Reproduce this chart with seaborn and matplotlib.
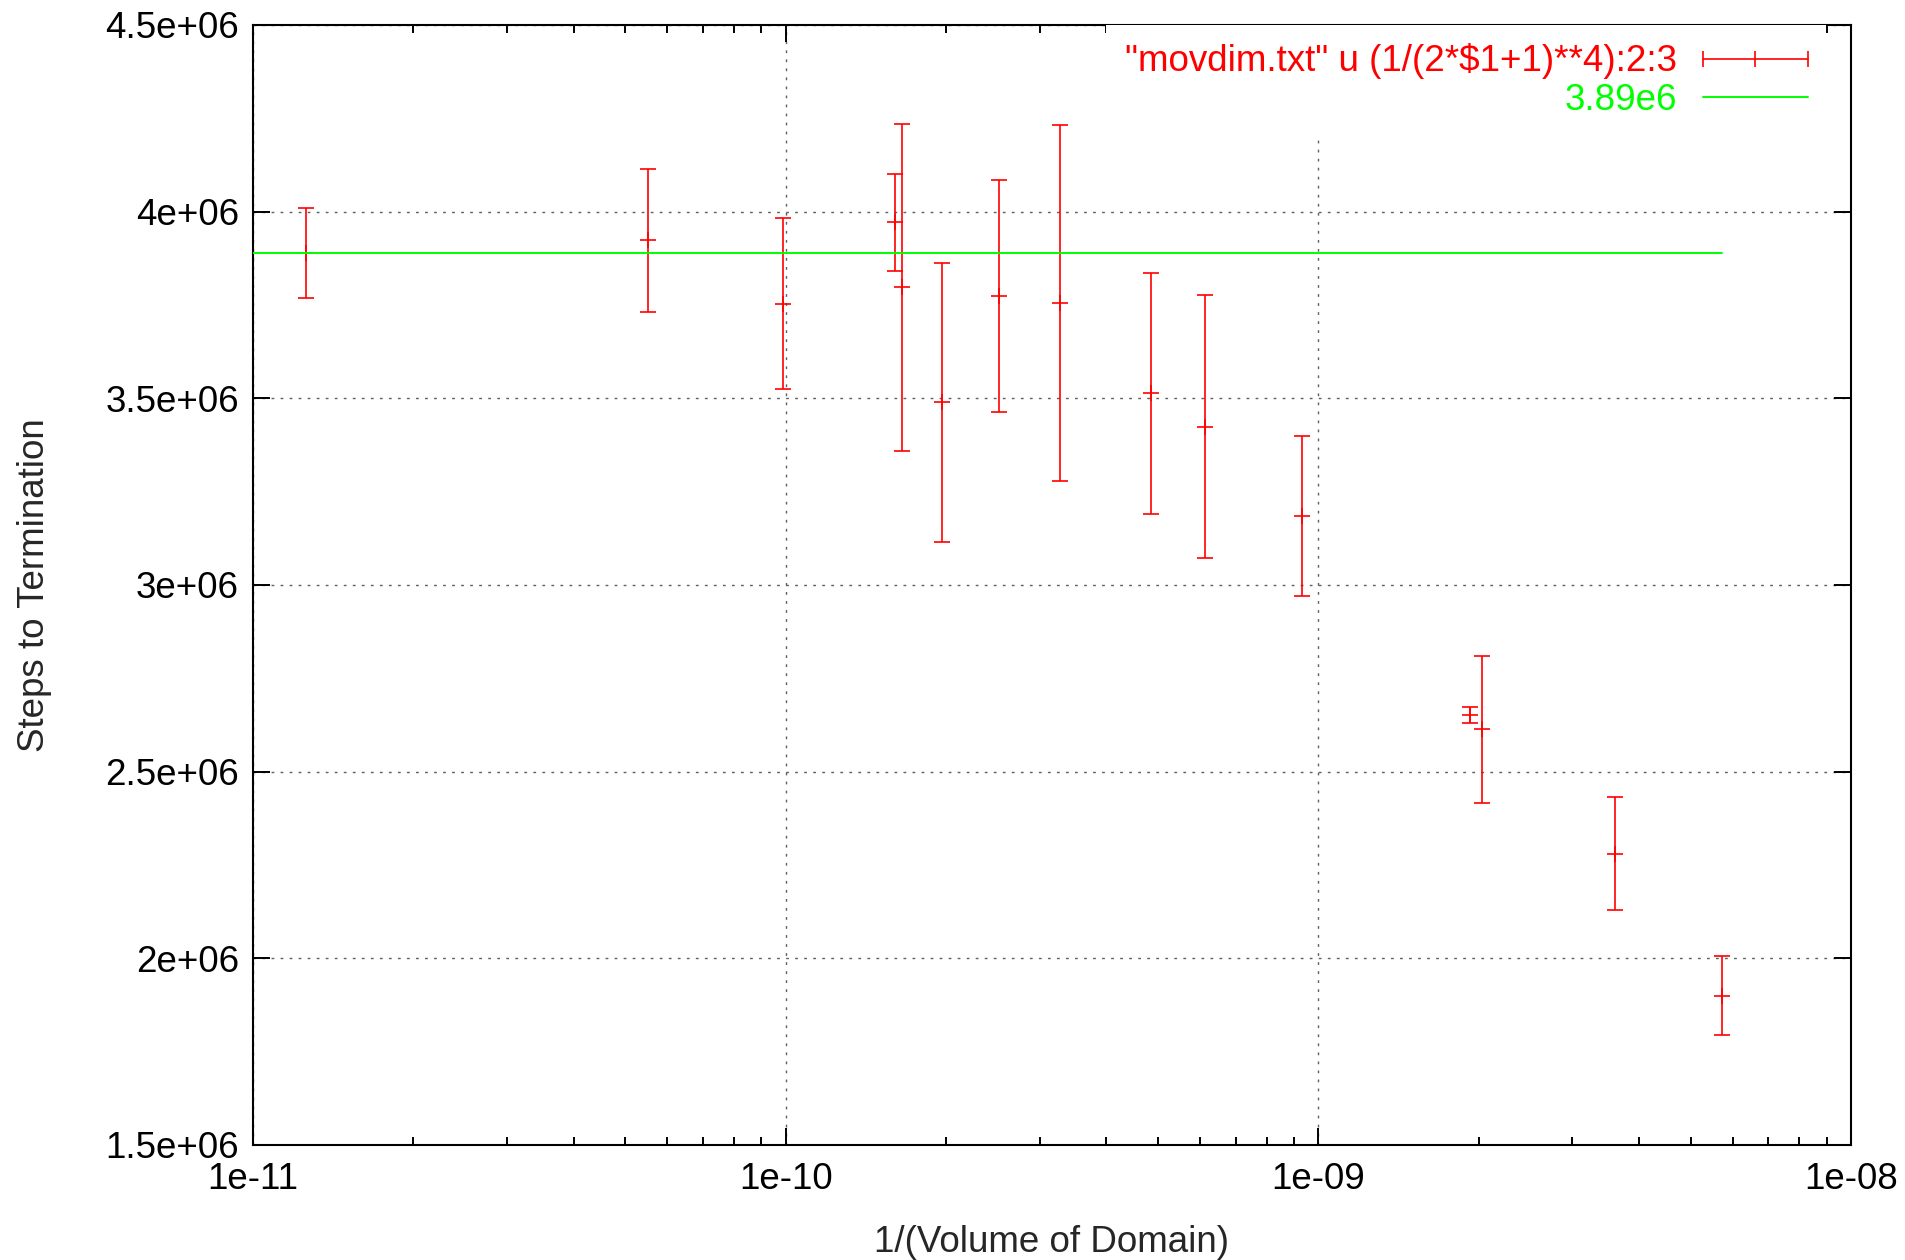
import numpy as np
import matplotlib
matplotlib.use('Agg')
import matplotlib.pyplot as plt
import seaborn as sns
from matplotlib.lines import Line2D
from matplotlib.legend_handler import HandlerBase
from matplotlib.ticker import LogLocator, NullLocator, NullFormatter, FuncFormatter

# ---------------------------------------------------------------------------
# data: domain side length (x = 1/side**4), mean, error
# ---------------------------------------------------------------------------
side = [531, 367, 317, 281, 279, 267, 251, 235, 213, 201, 181, 151, 149, 129, 115]
steps = [3.890e6, 3.923e6, 3.753e6, 3.972e6, 3.797e6, 3.489e6, 3.774e6, 3.756e6,
         3.514e6, 3.424e6, 3.185e6, 2.651e6, 2.613e6, 2.280e6, 1.900e6]
step_err = [0.120e6, 0.192e6, 0.229e6, 0.130e6, 0.437e6, 0.373e6, 0.311e6, 0.477e6,
            0.323e6, 0.353e6, 0.215e6, 0.021e6, 0.197e6, 0.151e6, 0.105e6]

fit_value = 3.89e6
data_label = '"movdim.txt" u (1/(2*$1+1)**4):2:3'
fit_label = '3.89e6'

inv_volume = 1.0 / np.array(side, dtype=float) ** 4

RED = '#ff0000'
GREEN = '#00ff00'
FS = 26.5


class ErrorbarKey(HandlerBase):
    """gnuplot style key sample: |--+--|"""
    def create_artists(self, legend, orig_handle, xdescent, ydescent,
                       width, height, fontsize, trans):
        y = height / 2 - ydescent
        x0 = -xdescent
        x1 = x0 + width
        col = orig_handle.get_color()
        line = Line2D([x0, x1], [y, y], color=col, lw=1.2)
        ends = Line2D([x0, x1], [y, y], ls='none', marker='|', ms=12, mew=1.2, color=col)
        mid = Line2D([(x0 + x1) / 2], [y], ls='none', marker='|', ms=12, mew=1.2, color=col)
        for a in (line, ends, mid):
            a.set_transform(trans)
        return [line, ends, mid]


sns.set_style('ticks')
plt.rcParams['font.family'] = ['Liberation Sans', 'DejaVu Sans']

fig = plt.figure(figsize=(19.06, 12.6), dpi=100)
ax = fig.add_axes([253 / 1906, 1 - 1145 / 1260, 1598 / 1906, 1120 / 1260])

# error bars
ax.errorbar(inv_volume, steps, yerr=step_err, fmt='+', color=RED, ms=11.5, mew=1.2,
            elinewidth=1.2, capsize=5.75, capthick=1.2, zorder=3)

# constant fit line, from the left edge to the last data point
sns.lineplot(x=[1e-11, inv_volume[-1]], y=[fit_value, fit_value],
             color=GREEN, lw=1.4, ax=ax, legend=False, zorder=4)

ax.set_xscale('log')
ax.set_xlim(1e-11, 1e-8)
ax.set_ylim(1.5e6, 4.5e6)

ax.set_xticks([1e-11, 1e-10, 1e-9, 1e-8])
ax.xaxis.set_minor_locator(LogLocator(base=10, subs=np.arange(2, 10), numticks=20))
ax.xaxis.set_minor_formatter(NullFormatter())
ax.xaxis.set_major_formatter(FuncFormatter(lambda v, p: '%g' % v))
ax.set_yticks(np.arange(1.5e6, 4.51e6, 0.5e6))
ax.yaxis.set_minor_locator(NullLocator())
ax.yaxis.set_major_formatter(FuncFormatter(lambda v, p: '%g' % v))

ax.tick_params(which='both', direction='in', top=True, right=True, colors='black',
               labelsize=FS)
ax.tick_params(which='major', length=12, width=1.4)
ax.tick_params(which='minor', length=6, width=1.4)
ax.tick_params(axis='x', pad=12)
ax.tick_params(axis='y', pad=10)

for s in ax.spines.values():
    s.set_linewidth(1.5)
    s.set_color('black')

ax.grid(True, which='major', color='#606060', lw=1.0, ls=(0, (2, 4.5)), zorder=0)
ax.set_axisbelow(True)

ax.set_xlabel('1/(Volume of Domain)', fontsize=FS, va='center')
ax.set_ylabel('Steps to Termination', fontsize=FS, va='center')
ax.xaxis.set_label_coords(0.5, -0.087)
ax.yaxis.set_label_coords(-0.137, 0.5)

# key
err_proxy = Line2D([], [], color=RED)
fit_proxy = Line2D([], [], color=GREEN, lw=1.4)
leg = ax.legend([err_proxy, fit_proxy], [data_label, fit_label],
                handler_map={err_proxy: ErrorbarKey()},
                loc='upper right', bbox_to_anchor=(0.9843, 1.0), borderaxespad=0,
                borderpad=0.5, markerfirst=False, handlelength=2.85, handletextpad=0.7,
                labelspacing=0.1, fontsize=FS, labelcolor='linecolor',
                frameon=True, fancybox=False, framealpha=1.0)
leg.get_frame().set_facecolor('white')
leg.get_frame().set_edgecolor('none')
leg.set_zorder(5)

fig.savefig('out.png', dpi=100, facecolor='white')
